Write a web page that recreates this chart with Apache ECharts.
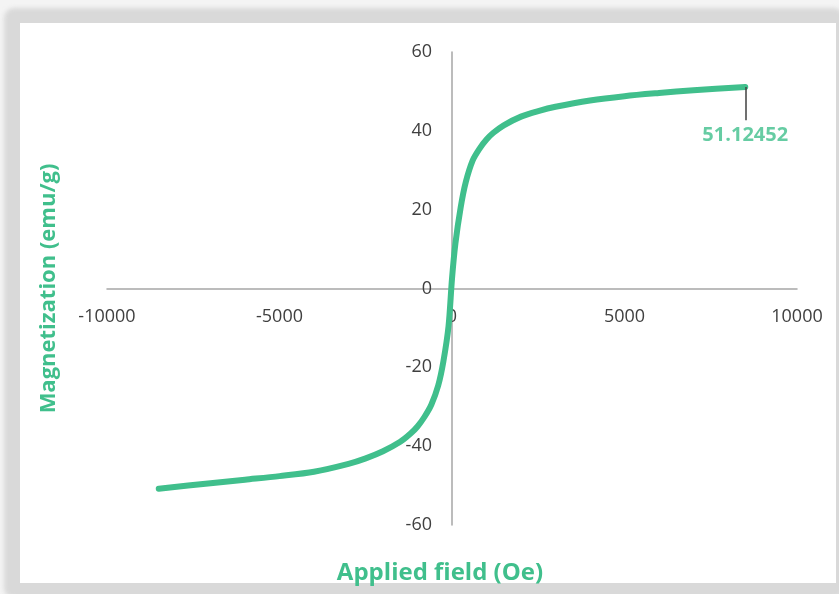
<!DOCTYPE html>
<html>
<head>
<meta charset="utf-8">
<script src="https://cdn.jsdelivr.net/npm/echarts@6/dist/echarts.min.js"></script>
<style>
  html, body { margin: 0; padding: 0; width: 839px; height: 594px; overflow: hidden; background: #f4f4f4; }
  #frame { position: absolute; left: 4px; top: 8px; width: 840px; height: 590px; background: #d9d9d9; border-radius: 10px; filter: blur(2px); }
  #panel { position: absolute; left: 20px; top: 23px; width: 816px; height: 560px; background: #ffffff; }
  #chart { position: absolute; left: 0; top: 0; width: 839px; height: 594px; }
</style>
</head>
<body>
<div id="frame"></div>
<div id="panel"></div>
<div id="chart"></div>
<script>
// Applied field (Oe)
const fieldValues = [-8500, -7000, -6000, -5000, -4000, -3000, -2500, -2000, -1500, -1200, -1000, -800, -600, -400, -250, -100, 0, 100, 250, 400, 600, 800, 1000, 1200, 1500, 2000, 2500, 3000, 4000, 5000, 6000, 7000, 8500];
// Magnetization (emu/g)
const magnetization = [-50.8, -49.4, -48.5, -47.6, -46.5, -44.5, -43.1, -41.3, -38.9, -36.8, -35.0, -32.6, -29.5, -24.6, -18.5, -9.5, 2.5, 11.5, 20.5, 27.0, 32.5, 35.5, 37.8, 39.5, 41.4, 43.6, 45.0, 46.1, 47.7, 48.8, 49.6, 50.3, 51.12452];
const labelValue = 51.12452;
const leaderEnd = 42.7;
const xTicks = { min: -10000, max: 10000, interval: 5000 };
const yTicks = { min: -60, max: 60, interval: 20 };

const green = '#40bf8c';
const chart = echarts.init(document.getElementById('chart'), null, { renderer: 'canvas' });
const data = fieldValues.map((x, i) => [x, magnetization[i]]);
const lastIdx = data.length - 1;

const gridLeft = 107, gridRight = 42, gridTop = 52, gridBottom = 69;
const W = 839, H = 594;
const plotW = W - gridLeft - gridRight, plotH = H - gridTop - gridBottom;
// offsets move the axes so they cross at the origin (layout only)
const xAxisOffset = -plotH * (0 - yTicks.min) / (yTicks.max - yTicks.min);
const yAxisOffset = -plotW * (0 - xTicks.min) / (xTicks.max - xTicks.min);

chart.setOption({
  backgroundColor: 'transparent',
  animation: false,
  grid: { left: gridLeft, right: gridRight, top: gridTop, bottom: gridBottom, containLabel: false, outerBoundsMode: 'none' },
  xAxis: {
    type: 'value', min: xTicks.min, max: xTicks.max, interval: xTicks.interval,
    position: 'bottom', offset: xAxisOffset,
    name: 'Applied field (Oe)', nameLocation: 'middle', nameGap: 273,
    nameTextStyle: { color: green, fontWeight: 'bold', fontSize: 24, fontFamily: 'Open Sans', padding: [0, 24, 0, 0] },
    axisLine: { onZero: false, lineStyle: { color: '#a6a6a6', width: 1.5 } },
    axisTick: { show: false },
    splitLine: { show: false },
    axisLabel: { margin: 19, color: '#404040', fontSize: 18, fontFamily: 'Open Sans', formatter: v => String(v) }
  },
  yAxis: {
    type: 'value', min: yTicks.min, max: yTicks.max, interval: yTicks.interval,
    position: 'left', offset: yAxisOffset,
    name: 'Magnetization (emu/g)', nameLocation: 'middle', nameGap: 392,
    nameTextStyle: { color: green, fontWeight: 'bold', fontSize: 22, fontFamily: 'Open Sans' },
    axisLine: { onZero: false, lineStyle: { color: '#a6a6a6', width: 1.5 } },
    axisTick: { show: false },
    splitLine: { show: false },
    axisLabel: { margin: 20, color: '#404040', fontSize: 18, fontFamily: 'Open Sans', formatter: v => String(v) }
  },
  series: [{
    type: 'line',
    data: data,
    smooth: 0.3,
    showSymbol: false,
    symbol: 'none',
    lineStyle: { color: green, width: 6, cap: 'round', join: 'round' },
    itemStyle: { color: green },
    markLine: {
      silent: true,
      symbol: 'none',
      label: { show: false },
      lineStyle: { color: '#404040', width: 1.5, type: 'solid' },
      data: [[{ coord: [fieldValues[lastIdx], labelValue] }, { coord: [fieldValues[lastIdx], leaderEnd] }]]
    }
  }, {
    type: 'scatter',
    data: [[fieldValues[lastIdx], labelValue]],
    symbolSize: 1,
    itemStyle: { color: 'rgba(0,0,0,0)' },
    label: {
      show: true, position: 'bottom', distance: 38,
      formatter: String(labelValue),
      color: green, fontWeight: 'bold', fontSize: 20, fontFamily: 'Open Sans'
    }
  }]
});
</script>
</body>
</html>
